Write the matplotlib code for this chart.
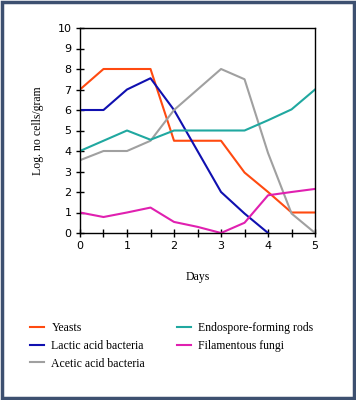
import numpy as np
import matplotlib
matplotlib.use("Agg")
import matplotlib.pyplot as plt
from matplotlib.patches import Rectangle

# data
days = [0, 0.5, 1, 1.5, 2, 2.5, 3, 3.5, 4, 4.5, 5]
yeasts = [7, 8, 8, 8, 4.5, 4.5, 4.5, 2.95, 2, 1, 1]
lactic_days = [0, 0.5, 1, 1.5, 2, 2.5, 3, 3.5, 4]
lactic = [6, 6, 7, 7.55, 6, 4, 2, 0.95, 0]
acetic = [3.55, 4, 4, 4.5, 6, 7, 8, 7.5, 3.9, 0.95, 0]
endospore = [4, 4.5, 5, 4.55, 5, 5, 5, 5, 5.5, 6.03, 7]
fungi = [1, 0.78, 1, 1.24, 0.54, 0.3, 0, 0.5, 1.84, 2, 2.15]

serif = "Liberation Serif"

fig = plt.figure(figsize=(3.56, 4), dpi=100)
ax = fig.add_axes([0.2247, 0.4175, 0.6603, 0.5125])

l1, = ax.plot(days, yeasts, color="#ff4a10", lw=1.5, label="Yeasts")
l2, = ax.plot(lactic_days, lactic, color="#1010b0", lw=1.5, label="Lactic acid bacteria")
l3, = ax.plot(days, acetic, color="#a0a0a0", lw=1.5, label="Acetic acid bacteria")
l4, = ax.plot(days, endospore, color="#20a8a0", lw=1.5, label="Endospore-forming rods")
l5, = ax.plot(days, fungi, color="#e020b0", lw=1.5, label="Filamentous fungi")

ax.set_xlim(0, 5)
ax.set_ylim(0, 10)
ax.set_xticks(np.arange(0, 5.01, 0.5))
ax.set_xticklabels(["0", "", "1", "", "2", "", "3", "", "4", "", "5"])
ax.set_yticks(range(0, 11))
ax.tick_params(direction="inout", length=6, width=1, labelsize=8, pad=3)
for s in ax.spines.values():
    s.set_linewidth(1)

ax.set_xlabel("Days", fontfamily=serif, fontsize=8.5, labelpad=14)
ax.set_ylabel("Log. no cells/gram", fontfamily=serif, fontsize=8.5, labelpad=10)

handles = [l1, l2, l3, l4, l5]
leg = fig.legend(handles, [h.get_label() for h in handles], ncol=2,
                 loc="upper left", bbox_to_anchor=(0.055, 0.222),
                 frameon=False, prop={"family": serif, "size": 8.5},
                 handlelength=1.2, handletextpad=0.6, columnspacing=2.7,
                 labelspacing=0.5)

# outer frame
fig.patches.append(Rectangle((0.006, 0.005), 0.988, 0.99, transform=fig.transFigure,
                             fill=False, edgecolor="#3d5070", lw=2.5))

fig.savefig("out.png", dpi=100)
